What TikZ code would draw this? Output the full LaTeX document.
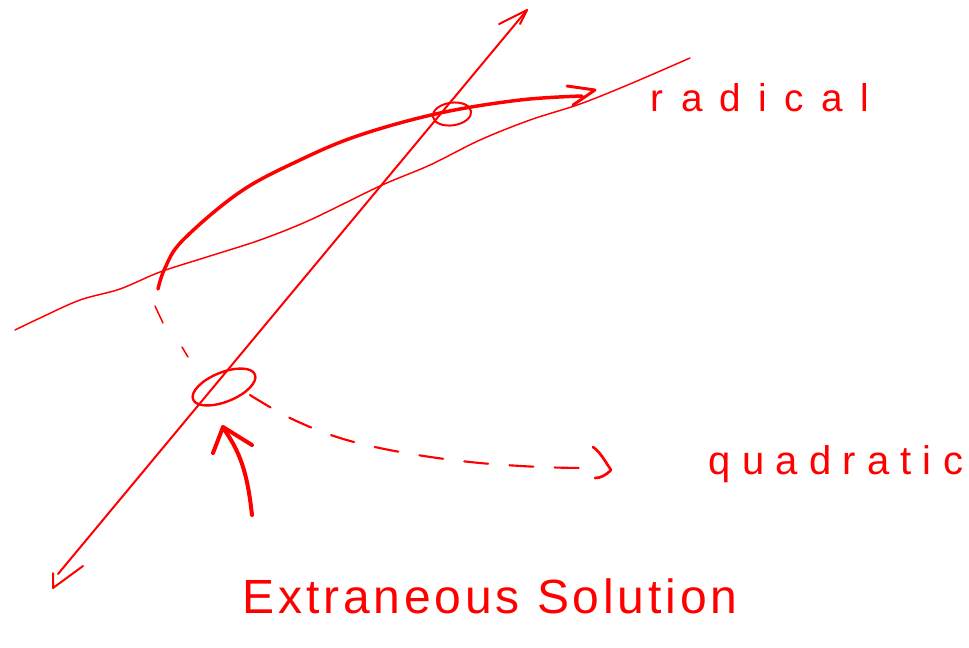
\documentclass[tikz,border=0pt]{standalone}
\usepackage{fontspec}
\usetikzlibrary{shapes.geometric}
\newfontfamily\handA[LetterSpace=45]{Liberation Sans}
\newfontfamily\handB[LetterSpace=28]{Liberation Sans}
\newfontfamily\handC[LetterSpace=8]{Liberation Sans}
\definecolor{ink}{RGB}{255,0,0}
\tikzset{
  pen/.style={draw=ink, line cap=round, line join=round},
  thinpen/.style={pen, line width=1.1pt},
  midpen/.style={pen, line width=1.5pt},
  thickpen/.style={pen, line width=2.6pt},
  loop/.style={draw=ink, shape=ellipse, inner sep=0pt},
  label/.style={text=ink, inner sep=0pt, anchor=center}
}
\begin{document}
\begin{tikzpicture}[x=0.75pt,y=-0.75pt]
\useasboundingbox (0,0) rectangle (969,647);
% coordinates
\coordinate (axTop) at (527,10);
\coordinate (axBot) at (58,574);
\coordinate (radEnd) at (582,96);
\coordinate (qEnd) at (592,468);
% diagonal axis
\draw[midpen] (axTop) -- (axBot);
\draw[midpen] (499,24) -- (axTop) -- (520,24);
\draw[midpen] (83,566) -- (53,588) -- (53,573);
% thin wavy curve
\draw[thinpen] plot[smooth, tension=0.55] coordinates {(15,330) (40,318) (80,300) (120,289) (160,272) (210,256) (260,240) (310,220) (380,186) (430,165) (480,140) (530,120) (580,104) (630,84) (690,58)};
% radical curve
\draw[thickpen] plot[smooth, tension=0.6] coordinates {(158,289) (165,268) (183,240) (240,192) (300,160) (360,135) (440,113) (520,100) (radEnd)};
\draw[midpen, line width=2.2pt] (567,86) -- (595,90) -- (573,105);
% dashed continuation
\draw[thinpen] (155,306) -- (163,323);
\draw[thinpen] (182,347) -- (188,357);
% ellipses
\node[loop, line width=1.5pt, minimum width=29pt, minimum height=17pt, rotate=8] (e1) at (452,114) {};
\node[loop, line width=1.8pt, minimum width=50pt, minimum height=22pt, rotate=22] (e2) at (224,387) {};
% dashed quadratic curve
\draw[pen, line width=1.6pt, dash pattern=on 18pt off 16pt] plot[smooth, tension=0.6] coordinates {(250,395) (290,418) (340,438) (400,452) (470,462) (540,467) (qEnd)};
\draw[pen, line width=2pt] (593,447) .. controls (600,452) and (603,458) .. (611,470) .. controls (605,476) and (600,478) .. (595,478);
% up arrow
\draw[pen, line width=3pt] (252,515) .. controls (248,480) and (243,455) .. (223,428);
\draw[pen, line width=3pt] (213,453) -- (223,427) -- (252,445);
% labels
\node[label, font=\handA\fontsize{29}{30}\selectfont] (tRad) at (760,98) {radical};
\node[label, font=\handB\fontsize{30}{31}\selectfont] (tQuad) at (836,464) {quadratic};
\node[label, font=\handC\fontsize{36}{38}\selectfont] (tExt) at (490,596) {Extraneous Solution};
\end{tikzpicture}
\end{document}
